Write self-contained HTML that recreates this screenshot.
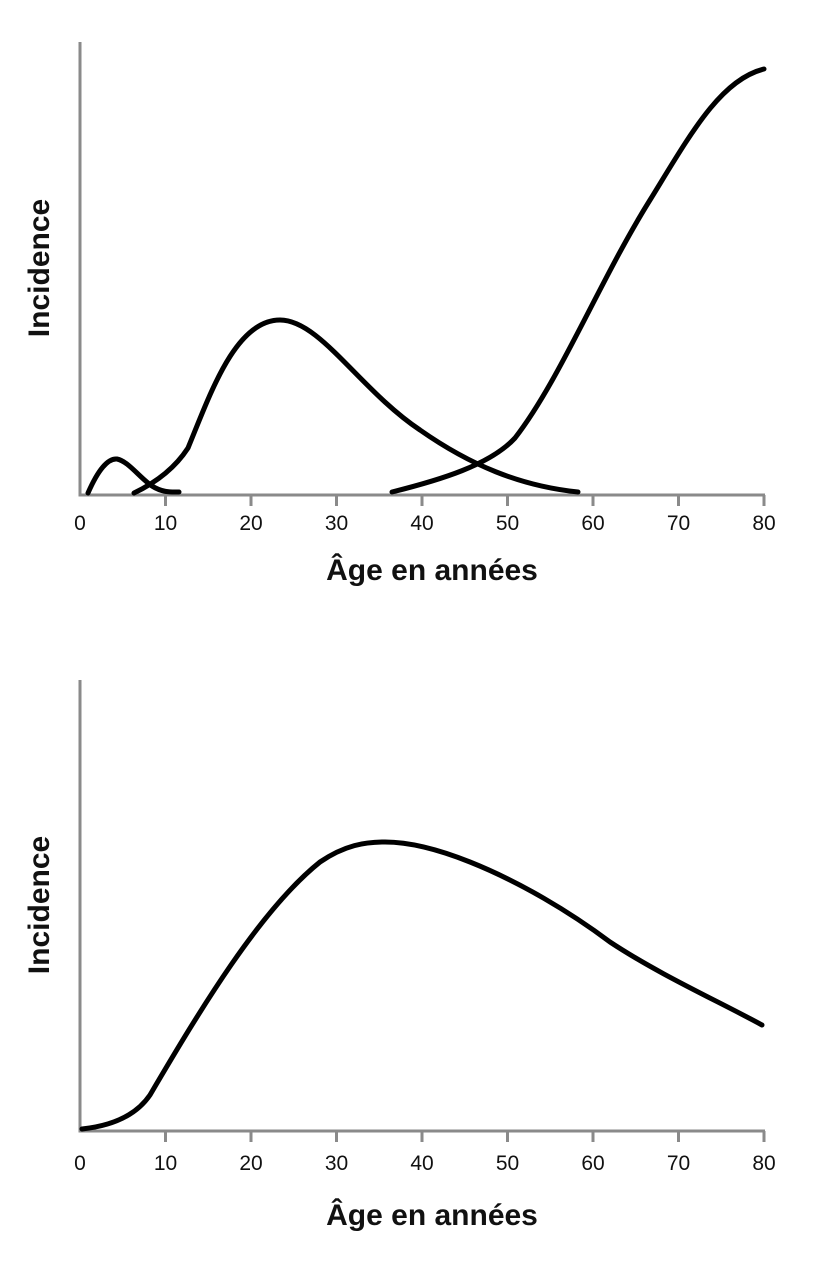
<!DOCTYPE html>
<html><head><style>body{margin:0;background:#fff}svg{display:block}</style></head><body>
<svg width="823" height="1280" viewBox="0 0 823 1280" xmlns="http://www.w3.org/2000/svg" font-family="Liberation Sans, sans-serif">
<g stroke="#8a8a8a" stroke-width="3" fill="none">
<path d="M80,42 V495 H765"/>
<path d="M165.5,495v11M251,495v11M336.5,495v11M422,495v11M507.5,495v11M593,495v11M678.5,495v11M764,495v11"/>
<path d="M80,680 V1131 H765"/>
<path d="M165.5,1131v11M251,1131v11M336.5,1131v11M422,1131v11M507.5,1131v11M593,1131v11M678.5,1131v11M764,1131v11"/>
</g>
<g font-size="21" text-anchor="middle" fill="#111">
<text x="80" y="530">0</text><text x="165.5" y="530">10</text><text x="251" y="530">20</text><text x="336.5" y="530">30</text><text x="422" y="530">40</text><text x="507.5" y="530">50</text><text x="593" y="530">60</text><text x="678.5" y="530">70</text><text x="764" y="530">80</text>
<text x="80" y="1170">0</text><text x="165.5" y="1170">10</text><text x="251" y="1170">20</text><text x="336.5" y="1170">30</text><text x="422" y="1170">40</text><text x="507.5" y="1170">50</text><text x="593" y="1170">60</text><text x="678.5" y="1170">70</text><text x="764" y="1170">80</text>
</g>
<g font-size="30" font-weight="bold" text-anchor="middle" fill="#111">
<text x="432" y="580">Âge en années</text>
<text x="432" y="1225">Âge en années</text>
<text transform="translate(49,268) rotate(-90)">Incidence</text>
<text transform="translate(49,905) rotate(-90)">Incidence</text>
</g>
<g stroke="#000" stroke-width="5" fill="none" stroke-linecap="round">
<path d="M88,493 C98,470 108,458 117,459 C128,461 140,478 152,486 C163,493 172,492 179,492"/>
<path d="M134,493 C155,483 175,468 188,448 C210,395 235,320 280,320 C320,320 360,390 420,430 C470,465 520,486 578,492"/>
<path d="M392,492 C440,480 490,465 515,438 C560,380 600,280 650,200 C690,135 720,80 764,69"/>
<path d="M82,1129 C110,1126 135,1117 150,1095 C200,1010 260,910 320,862 C345,845 365,842 385,842 C410,842 440,850 470,862 C520,882 570,912 610,942 C660,975 720,1002 762,1025"/>
</g>
</svg>
</body></html>
